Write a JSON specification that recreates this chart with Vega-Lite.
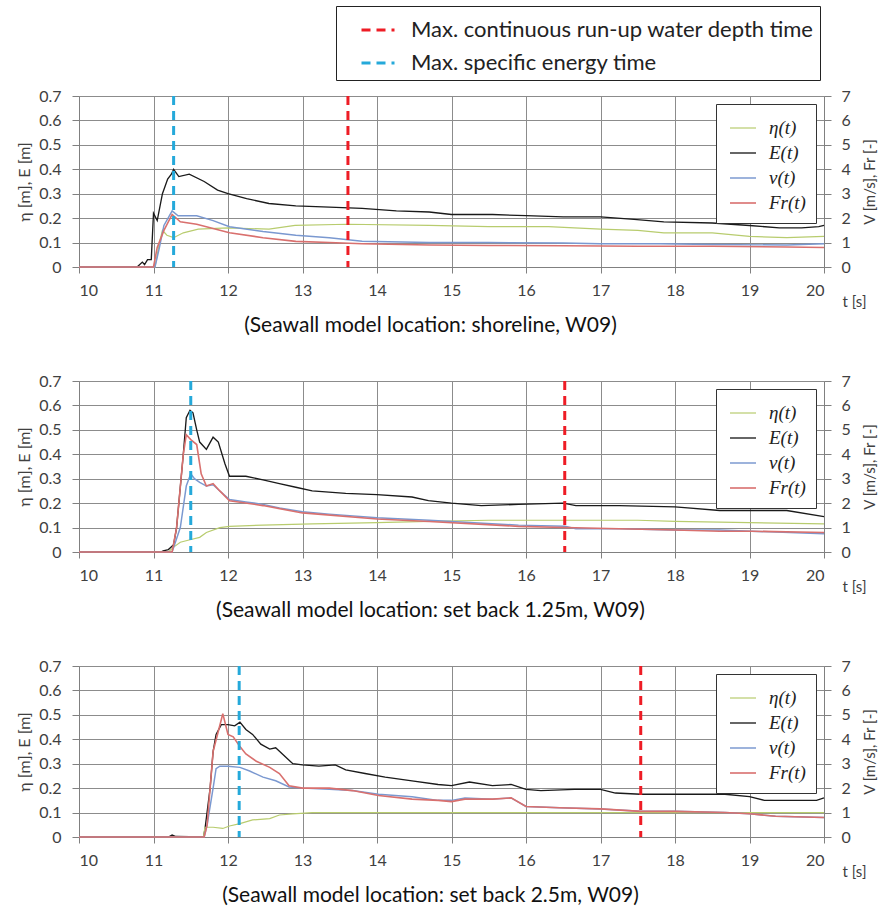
{
  "$schema": "https://vega.github.io/schema/vega-lite/v6.json",
  "background": "white",
  "padding": {"left": 16, "top": 5, "right": 2, "bottom": 5},
  "datasets": {
    "p1": [
      {"t":10,"s":"E(t)","a":"L","y":0},{"t":10.78,"s":"E(t)","a":"L","y":0},{"t":10.85,"s":"E(t)","a":"L","y":0.02},{"t":10.88,"s":"E(t)","a":"L","y":0.01},{"t":10.92,"s":"E(t)","a":"L","y":0.03},{"t":10.97,"s":"E(t)","a":"L","y":0.03},{"t":11.0,"s":"E(t)","a":"L","y":0.22},{"t":11.05,"s":"E(t)","a":"L","y":0.19},{"t":11.12,"s":"E(t)","a":"L","y":0.3},{"t":11.19,"s":"E(t)","a":"L","y":0.36},{"t":11.24,"s":"E(t)","a":"L","y":0.38},{"t":11.27,"s":"E(t)","a":"L","y":0.4},{"t":11.34,"s":"E(t)","a":"L","y":0.37},{"t":11.48,"s":"E(t)","a":"L","y":0.38},{"t":11.68,"s":"E(t)","a":"L","y":0.35},{"t":11.86,"s":"E(t)","a":"L","y":0.315},{"t":12.0,"s":"E(t)","a":"L","y":0.3},{"t":12.25,"s":"E(t)","a":"L","y":0.28},{"t":12.55,"s":"E(t)","a":"L","y":0.26},{"t":12.91,"s":"E(t)","a":"L","y":0.25},{"t":13.36,"s":"E(t)","a":"L","y":0.245},{"t":13.8,"s":"E(t)","a":"L","y":0.24},{"t":14.26,"s":"E(t)","a":"L","y":0.23},{"t":14.7,"s":"E(t)","a":"L","y":0.225},{"t":15.0,"s":"E(t)","a":"L","y":0.215},{"t":15.55,"s":"E(t)","a":"L","y":0.215},{"t":16.0,"s":"E(t)","a":"L","y":0.21},{"t":16.5,"s":"E(t)","a":"L","y":0.205},{"t":17.0,"s":"E(t)","a":"L","y":0.205},{"t":17.45,"s":"E(t)","a":"L","y":0.195},{"t":17.85,"s":"E(t)","a":"L","y":0.185},{"t":18.5,"s":"E(t)","a":"L","y":0.18},{"t":19.0,"s":"E(t)","a":"L","y":0.17},{"t":19.4,"s":"E(t)","a":"L","y":0.16},{"t":19.7,"s":"E(t)","a":"L","y":0.16},{"t":19.93,"s":"E(t)","a":"L","y":0.165},{"t":20,"s":"E(t)","a":"L","y":0.17},
      {"t":10,"s":"η(t)","a":"L","y":0},{"t":11.02,"s":"η(t)","a":"L","y":0},{"t":11.08,"s":"η(t)","a":"L","y":0.1},{"t":11.12,"s":"η(t)","a":"L","y":0.15},{"t":11.18,"s":"η(t)","a":"L","y":0.13},{"t":11.27,"s":"η(t)","a":"L","y":0.12},{"t":11.4,"s":"η(t)","a":"L","y":0.14},{"t":11.6,"s":"η(t)","a":"L","y":0.155},{"t":12.0,"s":"η(t)","a":"L","y":0.16},{"t":12.55,"s":"η(t)","a":"L","y":0.155},{"t":12.9,"s":"η(t)","a":"L","y":0.17},{"t":13.6,"s":"η(t)","a":"L","y":0.175},{"t":14.7,"s":"η(t)","a":"L","y":0.17},{"t":15.5,"s":"η(t)","a":"L","y":0.165},{"t":16.3,"s":"η(t)","a":"L","y":0.165},{"t":17.0,"s":"η(t)","a":"L","y":0.155},{"t":17.5,"s":"η(t)","a":"L","y":0.15},{"t":17.85,"s":"η(t)","a":"L","y":0.14},{"t":18.5,"s":"η(t)","a":"L","y":0.14},{"t":19.0,"s":"η(t)","a":"L","y":0.125},{"t":19.5,"s":"η(t)","a":"L","y":0.12},{"t":20,"s":"η(t)","a":"L","y":0.125},
      {"t":10,"s":"v(t)","a":"R","y":0},{"t":11.02,"s":"v(t)","a":"R","y":0},{"t":11.08,"s":"v(t)","a":"R","y":0.8},{"t":11.14,"s":"v(t)","a":"R","y":1.7},{"t":11.25,"s":"v(t)","a":"R","y":2.3},{"t":11.33,"s":"v(t)","a":"R","y":2.1},{"t":11.58,"s":"v(t)","a":"R","y":2.1},{"t":11.8,"s":"v(t)","a":"R","y":1.9},{"t":12.02,"s":"v(t)","a":"R","y":1.65},{"t":12.47,"s":"v(t)","a":"R","y":1.45},{"t":12.91,"s":"v(t)","a":"R","y":1.3},{"t":13.36,"s":"v(t)","a":"R","y":1.2},{"t":13.8,"s":"v(t)","a":"R","y":1.05},{"t":14.7,"s":"v(t)","a":"R","y":1.0},{"t":15.5,"s":"v(t)","a":"R","y":1.0},{"t":16.5,"s":"v(t)","a":"R","y":0.98},{"t":17.0,"s":"v(t)","a":"R","y":0.95},{"t":17.8,"s":"v(t)","a":"R","y":0.95},{"t":18.5,"s":"v(t)","a":"R","y":0.92},{"t":19.5,"s":"v(t)","a":"R","y":0.9},{"t":20,"s":"v(t)","a":"R","y":0.95},
      {"t":10,"s":"Fr(t)","a":"R","y":0},{"t":11.0,"s":"Fr(t)","a":"R","y":0},{"t":11.05,"s":"Fr(t)","a":"R","y":0.8},{"t":11.14,"s":"Fr(t)","a":"R","y":1.5},{"t":11.25,"s":"Fr(t)","a":"R","y":2.15},{"t":11.36,"s":"Fr(t)","a":"R","y":1.85},{"t":11.58,"s":"Fr(t)","a":"R","y":1.75},{"t":12.02,"s":"Fr(t)","a":"R","y":1.4},{"t":12.47,"s":"Fr(t)","a":"R","y":1.2},{"t":12.91,"s":"Fr(t)","a":"R","y":1.05},{"t":13.36,"s":"Fr(t)","a":"R","y":1.0},{"t":13.8,"s":"Fr(t)","a":"R","y":0.95},{"t":14.7,"s":"Fr(t)","a":"R","y":0.9},{"t":15.5,"s":"Fr(t)","a":"R","y":0.88},{"t":16.5,"s":"Fr(t)","a":"R","y":0.87},{"t":17.5,"s":"Fr(t)","a":"R","y":0.85},{"t":18.5,"s":"Fr(t)","a":"R","y":0.85},{"t":19.5,"s":"Fr(t)","a":"R","y":0.82},{"t":20,"s":"Fr(t)","a":"R","y":0.8}
    ],
    "m1": [
      {"t":13.61,"m":"Max. continuous run-up water depth time"},
      {"t":11.27,"m":"Max. specific energy time"}
    ],
    "p2": [
      {"t":10,"s":"E(t)","a":"L","y":0},{"t":11.1,"s":"E(t)","a":"L","y":0},{"t":11.13,"s":"E(t)","a":"L","y":0.005},{"t":11.2,"s":"E(t)","a":"L","y":0.01},{"t":11.27,"s":"E(t)","a":"L","y":0.03},{"t":11.31,"s":"E(t)","a":"L","y":0.1},{"t":11.4,"s":"E(t)","a":"L","y":0.4},{"t":11.44,"s":"E(t)","a":"L","y":0.55},{"t":11.49,"s":"E(t)","a":"L","y":0.58},{"t":11.53,"s":"E(t)","a":"L","y":0.57},{"t":11.58,"s":"E(t)","a":"L","y":0.5},{"t":11.62,"s":"E(t)","a":"L","y":0.45},{"t":11.71,"s":"E(t)","a":"L","y":0.42},{"t":11.8,"s":"E(t)","a":"L","y":0.47},{"t":11.87,"s":"E(t)","a":"L","y":0.45},{"t":11.96,"s":"E(t)","a":"L","y":0.36},{"t":12.02,"s":"E(t)","a":"L","y":0.31},{"t":12.24,"s":"E(t)","a":"L","y":0.31},{"t":12.47,"s":"E(t)","a":"L","y":0.295},{"t":12.69,"s":"E(t)","a":"L","y":0.28},{"t":12.91,"s":"E(t)","a":"L","y":0.265},{"t":13.13,"s":"E(t)","a":"L","y":0.25},{"t":13.58,"s":"E(t)","a":"L","y":0.24},{"t":14.0,"s":"E(t)","a":"L","y":0.235},{"t":14.47,"s":"E(t)","a":"L","y":0.225},{"t":14.69,"s":"E(t)","a":"L","y":0.21},{"t":15.0,"s":"E(t)","a":"L","y":0.2},{"t":15.4,"s":"E(t)","a":"L","y":0.19},{"t":15.9,"s":"E(t)","a":"L","y":0.195},{"t":16.5,"s":"E(t)","a":"L","y":0.2},{"t":16.67,"s":"E(t)","a":"L","y":0.19},{"t":17.25,"s":"E(t)","a":"L","y":0.19},{"t":18.0,"s":"E(t)","a":"L","y":0.185},{"t":18.6,"s":"E(t)","a":"L","y":0.17},{"t":19.03,"s":"E(t)","a":"L","y":0.17},{"t":19.5,"s":"E(t)","a":"L","y":0.17},{"t":20,"s":"E(t)","a":"L","y":0.145},
      {"t":10,"s":"η(t)","a":"L","y":0},{"t":11.2,"s":"η(t)","a":"L","y":0},{"t":11.27,"s":"η(t)","a":"L","y":0.02},{"t":11.36,"s":"η(t)","a":"L","y":0.04},{"t":11.49,"s":"η(t)","a":"L","y":0.05},{"t":11.62,"s":"η(t)","a":"L","y":0.06},{"t":11.71,"s":"η(t)","a":"L","y":0.08},{"t":11.89,"s":"η(t)","a":"L","y":0.1},{"t":12.02,"s":"η(t)","a":"L","y":0.105},{"t":12.47,"s":"η(t)","a":"L","y":0.11},{"t":13.13,"s":"η(t)","a":"L","y":0.115},{"t":14.0,"s":"η(t)","a":"L","y":0.12},{"t":14.7,"s":"η(t)","a":"L","y":0.125},{"t":15.5,"s":"η(t)","a":"L","y":0.13},{"t":16.5,"s":"η(t)","a":"L","y":0.13},{"t":17.5,"s":"η(t)","a":"L","y":0.13},{"t":18.0,"s":"η(t)","a":"L","y":0.125},{"t":19.0,"s":"η(t)","a":"L","y":0.12},{"t":20,"s":"η(t)","a":"L","y":0.115},
      {"t":10,"s":"v(t)","a":"R","y":0},{"t":11.25,"s":"v(t)","a":"R","y":0},{"t":11.36,"s":"v(t)","a":"R","y":1.0},{"t":11.44,"s":"v(t)","a":"R","y":2.7},{"t":11.5,"s":"v(t)","a":"R","y":3.2},{"t":11.55,"s":"v(t)","a":"R","y":3.0},{"t":11.62,"s":"v(t)","a":"R","y":2.85},{"t":11.71,"s":"v(t)","a":"R","y":2.7},{"t":11.8,"s":"v(t)","a":"R","y":2.75},{"t":11.89,"s":"v(t)","a":"R","y":2.5},{"t":12.02,"s":"v(t)","a":"R","y":2.15},{"t":12.24,"s":"v(t)","a":"R","y":2.05},{"t":12.47,"s":"v(t)","a":"R","y":1.95},{"t":12.69,"s":"v(t)","a":"R","y":1.8},{"t":13.0,"s":"v(t)","a":"R","y":1.65},{"t":13.36,"s":"v(t)","a":"R","y":1.55},{"t":14.0,"s":"v(t)","a":"R","y":1.4},{"t":14.7,"s":"v(t)","a":"R","y":1.3},{"t":15.9,"s":"v(t)","a":"R","y":1.1},{"t":16.52,"s":"v(t)","a":"R","y":1.05},{"t":16.67,"s":"v(t)","a":"R","y":0.95},{"t":17.25,"s":"v(t)","a":"R","y":0.95},{"t":18.0,"s":"v(t)","a":"R","y":0.9},{"t":18.6,"s":"v(t)","a":"R","y":0.9},{"t":19.03,"s":"v(t)","a":"R","y":0.85},{"t":20,"s":"v(t)","a":"R","y":0.75},
      {"t":10,"s":"Fr(t)","a":"R","y":0},{"t":11.25,"s":"Fr(t)","a":"R","y":0},{"t":11.31,"s":"Fr(t)","a":"R","y":1.0},{"t":11.4,"s":"Fr(t)","a":"R","y":4.0},{"t":11.44,"s":"Fr(t)","a":"R","y":4.8},{"t":11.5,"s":"Fr(t)","a":"R","y":4.6},{"t":11.58,"s":"Fr(t)","a":"R","y":4.4},{"t":11.64,"s":"Fr(t)","a":"R","y":3.2},{"t":11.71,"s":"Fr(t)","a":"R","y":2.7},{"t":11.8,"s":"Fr(t)","a":"R","y":2.8},{"t":11.89,"s":"Fr(t)","a":"R","y":2.5},{"t":12.02,"s":"Fr(t)","a":"R","y":2.1},{"t":12.47,"s":"Fr(t)","a":"R","y":1.9},{"t":13.0,"s":"Fr(t)","a":"R","y":1.6},{"t":14.0,"s":"Fr(t)","a":"R","y":1.35},{"t":14.7,"s":"Fr(t)","a":"R","y":1.25},{"t":15.9,"s":"Fr(t)","a":"R","y":1.05},{"t":16.52,"s":"Fr(t)","a":"R","y":1.0},{"t":17.25,"s":"Fr(t)","a":"R","y":0.95},{"t":18.0,"s":"Fr(t)","a":"R","y":0.9},{"t":18.6,"s":"Fr(t)","a":"R","y":0.85},{"t":19.03,"s":"Fr(t)","a":"R","y":0.85},{"t":20,"s":"Fr(t)","a":"R","y":0.8}
    ],
    "m2": [
      {"t":16.52,"m":"Max. continuous run-up water depth time"},
      {"t":11.5,"m":"Max. specific energy time"}
    ],
    "p3": [
      {"t":10,"s":"E(t)","a":"L","y":0},{"t":11.2,"s":"E(t)","a":"L","y":0},{"t":11.25,"s":"E(t)","a":"L","y":0.008},{"t":11.3,"s":"E(t)","a":"L","y":0.002},{"t":11.67,"s":"E(t)","a":"L","y":0},{"t":11.69,"s":"E(t)","a":"L","y":0.03},{"t":11.76,"s":"E(t)","a":"L","y":0.2},{"t":11.8,"s":"E(t)","a":"L","y":0.35},{"t":11.84,"s":"E(t)","a":"L","y":0.42},{"t":11.91,"s":"E(t)","a":"L","y":0.46},{"t":12.0,"s":"E(t)","a":"L","y":0.46},{"t":12.09,"s":"E(t)","a":"L","y":0.455},{"t":12.16,"s":"E(t)","a":"L","y":0.47},{"t":12.24,"s":"E(t)","a":"L","y":0.44},{"t":12.33,"s":"E(t)","a":"L","y":0.42},{"t":12.44,"s":"E(t)","a":"L","y":0.38},{"t":12.56,"s":"E(t)","a":"L","y":0.36},{"t":12.64,"s":"E(t)","a":"L","y":0.365},{"t":12.73,"s":"E(t)","a":"L","y":0.34},{"t":12.87,"s":"E(t)","a":"L","y":0.3},{"t":13.0,"s":"E(t)","a":"L","y":0.295},{"t":13.22,"s":"E(t)","a":"L","y":0.29},{"t":13.44,"s":"E(t)","a":"L","y":0.295},{"t":13.58,"s":"E(t)","a":"L","y":0.275},{"t":13.84,"s":"E(t)","a":"L","y":0.26},{"t":14.11,"s":"E(t)","a":"L","y":0.245},{"t":14.47,"s":"E(t)","a":"L","y":0.23},{"t":14.82,"s":"E(t)","a":"L","y":0.215},{"t":15.0,"s":"E(t)","a":"L","y":0.21},{"t":15.24,"s":"E(t)","a":"L","y":0.225},{"t":15.55,"s":"E(t)","a":"L","y":0.21},{"t":15.8,"s":"E(t)","a":"L","y":0.215},{"t":16.0,"s":"E(t)","a":"L","y":0.195},{"t":16.2,"s":"E(t)","a":"L","y":0.19},{"t":16.65,"s":"E(t)","a":"L","y":0.195},{"t":17.0,"s":"E(t)","a":"L","y":0.195},{"t":17.2,"s":"E(t)","a":"L","y":0.18},{"t":17.54,"s":"E(t)","a":"L","y":0.175},{"t":18.0,"s":"E(t)","a":"L","y":0.175},{"t":18.67,"s":"E(t)","a":"L","y":0.175},{"t":19.0,"s":"E(t)","a":"L","y":0.165},{"t":19.2,"s":"E(t)","a":"L","y":0.15},{"t":19.9,"s":"E(t)","a":"L","y":0.15},{"t":20,"s":"E(t)","a":"L","y":0.16},
      {"t":10,"s":"η(t)","a":"L","y":0},{"t":11.67,"s":"η(t)","a":"L","y":0},{"t":11.69,"s":"η(t)","a":"L","y":0.04},{"t":11.8,"s":"η(t)","a":"L","y":0.04},{"t":11.93,"s":"η(t)","a":"L","y":0.035},{"t":12.02,"s":"η(t)","a":"L","y":0.045},{"t":12.16,"s":"η(t)","a":"L","y":0.055},{"t":12.33,"s":"η(t)","a":"L","y":0.07},{"t":12.56,"s":"η(t)","a":"L","y":0.075},{"t":12.69,"s":"η(t)","a":"L","y":0.09},{"t":12.87,"s":"η(t)","a":"L","y":0.095},{"t":13.13,"s":"η(t)","a":"L","y":0.1},{"t":14.0,"s":"η(t)","a":"L","y":0.1},{"t":15.0,"s":"η(t)","a":"L","y":0.1},{"t":16.0,"s":"η(t)","a":"L","y":0.1},{"t":17.0,"s":"η(t)","a":"L","y":0.1},{"t":18.0,"s":"η(t)","a":"L","y":0.1},{"t":19.0,"s":"η(t)","a":"L","y":0.1},{"t":20,"s":"η(t)","a":"L","y":0.1},
      {"t":10,"s":"v(t)","a":"R","y":0},{"t":11.68,"s":"v(t)","a":"R","y":0},{"t":11.72,"s":"v(t)","a":"R","y":0.5},{"t":11.8,"s":"v(t)","a":"R","y":2.0},{"t":11.84,"s":"v(t)","a":"R","y":2.8},{"t":11.89,"s":"v(t)","a":"R","y":2.9},{"t":12.0,"s":"v(t)","a":"R","y":2.9},{"t":12.16,"s":"v(t)","a":"R","y":2.85},{"t":12.29,"s":"v(t)","a":"R","y":2.7},{"t":12.47,"s":"v(t)","a":"R","y":2.45},{"t":12.64,"s":"v(t)","a":"R","y":2.3},{"t":12.82,"s":"v(t)","a":"R","y":2.05},{"t":13.0,"s":"v(t)","a":"R","y":2.0},{"t":13.36,"s":"v(t)","a":"R","y":1.95},{"t":13.67,"s":"v(t)","a":"R","y":1.9},{"t":14.02,"s":"v(t)","a":"R","y":1.75},{"t":14.47,"s":"v(t)","a":"R","y":1.65},{"t":14.82,"s":"v(t)","a":"R","y":1.5},{"t":15.0,"s":"v(t)","a":"R","y":1.5},{"t":15.18,"s":"v(t)","a":"R","y":1.6},{"t":15.55,"s":"v(t)","a":"R","y":1.55},{"t":15.8,"s":"v(t)","a":"R","y":1.6},{"t":16.0,"s":"v(t)","a":"R","y":1.25},{"t":16.45,"s":"v(t)","a":"R","y":1.2},{"t":17.0,"s":"v(t)","a":"R","y":1.15},{"t":17.54,"s":"v(t)","a":"R","y":1.05},{"t":18.0,"s":"v(t)","a":"R","y":1.05},{"t":18.67,"s":"v(t)","a":"R","y":1.0},{"t":19.0,"s":"v(t)","a":"R","y":0.95},{"t":19.35,"s":"v(t)","a":"R","y":0.85},{"t":20,"s":"v(t)","a":"R","y":0.8},
      {"t":10,"s":"Fr(t)","a":"R","y":0},{"t":11.68,"s":"Fr(t)","a":"R","y":0},{"t":11.72,"s":"Fr(t)","a":"R","y":0.5},{"t":11.8,"s":"Fr(t)","a":"R","y":3.5},{"t":11.91,"s":"Fr(t)","a":"R","y":4.8},{"t":11.93,"s":"Fr(t)","a":"R","y":5.05},{"t":12.0,"s":"Fr(t)","a":"R","y":4.2},{"t":12.07,"s":"Fr(t)","a":"R","y":4.1},{"t":12.16,"s":"Fr(t)","a":"R","y":3.7},{"t":12.24,"s":"Fr(t)","a":"R","y":3.4},{"t":12.38,"s":"Fr(t)","a":"R","y":3.1},{"t":12.56,"s":"Fr(t)","a":"R","y":2.85},{"t":12.69,"s":"Fr(t)","a":"R","y":2.6},{"t":12.82,"s":"Fr(t)","a":"R","y":2.1},{"t":13.0,"s":"Fr(t)","a":"R","y":2.0},{"t":13.36,"s":"Fr(t)","a":"R","y":2.0},{"t":13.67,"s":"Fr(t)","a":"R","y":1.9},{"t":14.02,"s":"Fr(t)","a":"R","y":1.7},{"t":14.47,"s":"Fr(t)","a":"R","y":1.55},{"t":14.82,"s":"Fr(t)","a":"R","y":1.5},{"t":15.0,"s":"Fr(t)","a":"R","y":1.45},{"t":15.18,"s":"Fr(t)","a":"R","y":1.55},{"t":15.55,"s":"Fr(t)","a":"R","y":1.55},{"t":15.8,"s":"Fr(t)","a":"R","y":1.6},{"t":16.0,"s":"Fr(t)","a":"R","y":1.25},{"t":16.45,"s":"Fr(t)","a":"R","y":1.2},{"t":17.0,"s":"Fr(t)","a":"R","y":1.15},{"t":17.54,"s":"Fr(t)","a":"R","y":1.05},{"t":18.0,"s":"Fr(t)","a":"R","y":1.05},{"t":18.67,"s":"Fr(t)","a":"R","y":1.0},{"t":19.0,"s":"Fr(t)","a":"R","y":0.95},{"t":19.35,"s":"Fr(t)","a":"R","y":0.85},{"t":20,"s":"Fr(t)","a":"R","y":0.8}
    ],
    "m3": [
      {"t":17.54,"m":"Max. continuous run-up water depth time"},
      {"t":12.15,"m":"Max. specific energy time"}
    ]
  },
  "vconcat": [
    {
      "width": 745, "height": 171,
      "title": {"text": "(Seawall model location: shoreline, W09)", "orient": "bottom", "dx": -21},
      "layer": [
        {"data": {"name": "p1"}, "transform": [{"filter": "datum.a == 'L'"}],
         "mark": {"type": "line"},
         "encoding": {
           "x": {"field": "t", "type": "quantitative", "scale": {"domain": [10, 20], "nice": false}, "axis": {"values": [10,11,12,13,14,15,16,17,18,19,20], "format": "d", "title": "t [s]", "titleX": 775, "titleY": 27, "grid": true}},
           "y": {"field": "y", "type": "quantitative", "scale": {"domain": [0, 0.7], "nice": false}, "axis": {"values": [0,0.1,0.2,0.3,0.4,0.5,0.6,0.7], "format": ".2~f", "title": "η [m], E [m]", "grid": true, "tickSize": 7, "labelPadding": 11}},
           "color": {"field": "s", "type": "nominal", "scale": {"domain": ["η(t)","E(t)","v(t)","Fr(t)"], "range": ["#b8cc6e","#1a1a1a","#7a98d0","#d9706e"]}, "legend": {"title": null, "orient": "top-right", "offset": 8, "padding": 10}},
           "strokeWidth": {"field": "s", "type": "nominal", "scale": {"domain": ["η(t)","E(t)","v(t)","Fr(t)"], "range": [1.2,1.6,1.2,1.2]}, "legend": null}
         }},
        {"data": {"name": "p1"}, "transform": [{"filter": "datum.a == 'R'"}],
         "mark": {"type": "line"},
         "encoding": {
           "x": {"field": "t", "type": "quantitative"},
           "y": {"field": "y", "type": "quantitative", "scale": {"domain": [0, 7], "nice": false}, "axis": {"orient": "right", "values": [0,1,2,3,4,5,6,7], "title": "V [m/s], Fr [-]", "titleAngle": 270, "titleBaseline": "top", "grid": false, "tickSize": 7, "labelPadding": 10}},
           "color": {"field": "s", "type": "nominal"},
           "strokeWidth": {"field": "s", "type": "nominal", "legend": null}
         }},
        {"data": {"name": "m1"},
         "mark": {"type": "rule", "strokeDash": [9, 6], "strokeWidth": 3},
         "encoding": {
           "x": {"field": "t", "type": "quantitative"},
           "stroke": {"field": "m", "type": "nominal", "scale": {"domain": ["Max. continuous run-up water depth time", "Max. specific energy time"], "range": ["#ee1c25", "#25a9da"]},
             "legend": {"title": null, "orient": "none", "legendX": 257, "legendY": -90, "symbolType": "stroke", "symbolDash": [9, 6], "symbolStrokeWidth": 3, "symbolSize": 1089, "symbolOffset": 18, "labelFontSize": 22, "labelFont": "Lato", "labelFontStyle": "normal", "labelLimit": 0, "labelColor": "#222", "strokeColor": "#222", "fillColor": "white", "padding": 6, "rowPadding": 4, "labelOffset": 15}}
         }}
      ],
      "resolve": {"scale": {"y": "independent"}}
    },
    {
      "width": 745, "height": 171,
      "title": {"text": "(Seawall model location: set back 1.25m, W09)", "orient": "bottom", "dx": -21},
      "layer": [
        {"data": {"name": "p2"}, "transform": [{"filter": "datum.a == 'L'"}],
         "mark": {"type": "line"},
         "encoding": {
           "x": {"field": "t", "type": "quantitative", "scale": {"domain": [10, 20], "nice": false}, "axis": {"values": [10,11,12,13,14,15,16,17,18,19,20], "format": "d", "title": "t [s]", "titleX": 775, "titleY": 27, "grid": true}},
           "y": {"field": "y", "type": "quantitative", "scale": {"domain": [0, 0.7], "nice": false}, "axis": {"values": [0,0.1,0.2,0.3,0.4,0.5,0.6,0.7], "format": ".2~f", "title": "η [m], E [m]", "grid": true, "tickSize": 7, "labelPadding": 11}},
           "color": {"field": "s", "type": "nominal", "scale": {"domain": ["η(t)","E(t)","v(t)","Fr(t)"], "range": ["#b8cc6e","#1a1a1a","#7a98d0","#d9706e"]}, "legend": {"title": null, "orient": "top-right", "offset": 8, "padding": 10}},
           "strokeWidth": {"field": "s", "type": "nominal", "scale": {"domain": ["η(t)","E(t)","v(t)","Fr(t)"], "range": [1.2,1.6,1.2,1.2]}, "legend": null}
         }},
        {"data": {"name": "p2"}, "transform": [{"filter": "datum.a == 'R'"}],
         "mark": {"type": "line"},
         "encoding": {
           "x": {"field": "t", "type": "quantitative"},
           "y": {"field": "y", "type": "quantitative", "scale": {"domain": [0, 7], "nice": false}, "axis": {"orient": "right", "values": [0,1,2,3,4,5,6,7], "title": "V [m/s], Fr [-]", "titleAngle": 270, "titleBaseline": "top", "grid": false, "tickSize": 7, "labelPadding": 10}},
           "color": {"field": "s", "type": "nominal"},
           "strokeWidth": {"field": "s", "type": "nominal", "legend": null}
         }},
        {"data": {"name": "m2"},
         "mark": {"type": "rule", "strokeDash": [9, 6], "strokeWidth": 3},
         "encoding": {
           "x": {"field": "t", "type": "quantitative"},
           "stroke": {"field": "m", "type": "nominal", "scale": {"domain": ["Max. continuous run-up water depth time", "Max. specific energy time"], "range": ["#ee1c25", "#25a9da"]}, "legend": null}
         }}
      ],
      "resolve": {"scale": {"y": "independent"}}
    },
    {
      "width": 745, "height": 171,
      "title": {"text": "(Seawall model location: set back 2.5m, W09)", "orient": "bottom", "dx": -21},
      "layer": [
        {"data": {"name": "p3"}, "transform": [{"filter": "datum.a == 'L'"}],
         "mark": {"type": "line"},
         "encoding": {
           "x": {"field": "t", "type": "quantitative", "scale": {"domain": [10, 20], "nice": false}, "axis": {"values": [10,11,12,13,14,15,16,17,18,19,20], "format": "d", "title": "t [s]", "titleX": 775, "titleY": 27, "grid": true}},
           "y": {"field": "y", "type": "quantitative", "scale": {"domain": [0, 0.7], "nice": false}, "axis": {"values": [0,0.1,0.2,0.3,0.4,0.5,0.6,0.7], "format": ".2~f", "title": "η [m], E [m]", "grid": true, "tickSize": 7, "labelPadding": 11}},
           "color": {"field": "s", "type": "nominal", "scale": {"domain": ["η(t)","E(t)","v(t)","Fr(t)"], "range": ["#b8cc6e","#1a1a1a","#7a98d0","#d9706e"]}, "legend": {"title": null, "orient": "top-right", "offset": 8, "padding": 10}},
           "strokeWidth": {"field": "s", "type": "nominal", "scale": {"domain": ["η(t)","E(t)","v(t)","Fr(t)"], "range": [1.2,1.6,1.2,1.2]}, "legend": null}
         }},
        {"data": {"name": "p3"}, "transform": [{"filter": "datum.a == 'R'"}],
         "mark": {"type": "line"},
         "encoding": {
           "x": {"field": "t", "type": "quantitative"},
           "y": {"field": "y", "type": "quantitative", "scale": {"domain": [0, 7], "nice": false}, "axis": {"orient": "right", "values": [0,1,2,3,4,5,6,7], "title": "V [m/s], Fr [-]", "titleAngle": 270, "titleBaseline": "top", "grid": false, "tickSize": 7, "labelPadding": 10}},
           "color": {"field": "s", "type": "nominal"},
           "strokeWidth": {"field": "s", "type": "nominal", "legend": null}
         }},
        {"data": {"name": "m3"},
         "mark": {"type": "rule", "strokeDash": [9, 6], "strokeWidth": 3},
         "encoding": {
           "x": {"field": "t", "type": "quantitative"},
           "stroke": {"field": "m", "type": "nominal", "scale": {"domain": ["Max. continuous run-up water depth time", "Max. specific energy time"], "range": ["#ee1c25", "#25a9da"]}, "legend": null}
         }}
      ],
      "resolve": {"scale": {"y": "independent"}}
    }
  ],
  "spacing": 37,
  "resolve": {
    "scale": {"x": "independent", "y": "independent", "color": "independent", "stroke": "independent", "strokeWidth": "independent"},
    "legend": {"color": "independent", "stroke": "independent"}
  },
  "config": {
    "view": {"stroke": null},
    "font": "Lato",
    "axis": {"labelFont": "Lato", "labelFontSize": 16, "labelColor": "#404040", "titleFont": "Lato", "titleFontSize": 15, "titleFontWeight": "normal", "titleColor": "#404040", "domainColor": "#808080", "tickColor": "#808080", "gridColor": "#8c8c8c", "gridWidth": 1, "tickSize": 6, "labelPadding": 9},
    "axisLeft": {"titlePadding": 6, "titleFontSize": 16},
    "axisRight": {"titlePadding": 12},
    "legend": {"strokeColor": "#333", "fillColor": "white", "labelFont": "Liberation Serif", "labelFontStyle": "italic", "labelFontSize": 19, "labelColor": "#222", "symbolType": "stroke", "symbolSize": 676, "symbolOffset": 3, "symbolStrokeWidth": 1.5, "rowPadding": 1, "labelOffset": 12}
  ,
    "title": {"font": "Lato", "fontSize": 21, "fontWeight": "normal", "color": "#111", "offset": 6}
  }
}
